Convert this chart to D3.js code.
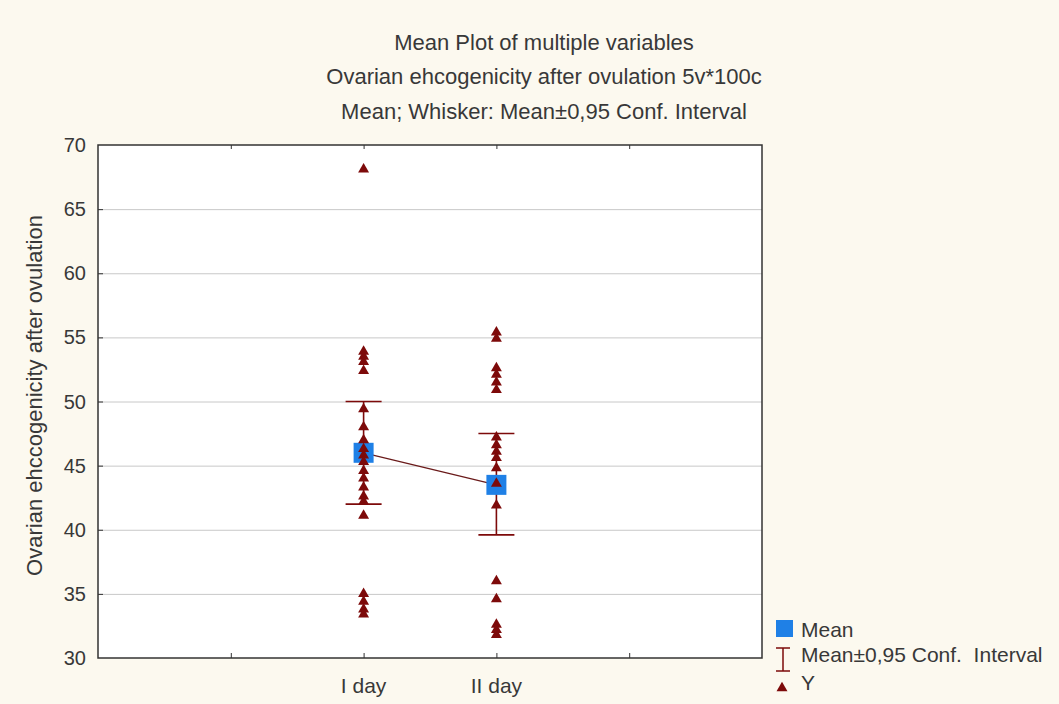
<meta charset="utf-8">
<script src="https://cdn.jsdelivr.net/npm/d3@7"></script>
<style>
  body { margin: 0; background: #fcf9ef; }
  text { font-family: "Liberation Sans", Arial, sans-serif; fill: #383838; }
  .grid line { stroke: #c8c8c8; stroke-width: 1px; }
  .grid path { display: none; }
  .ticks path { display: none; }
  .ticks line { stroke: #333; }
</style>
<body>
<script>
  // data
  var categories = ["I day", "II day"];
  var catPos = [2, 3];
  var means = [46.0, 43.5];
  var ciLow = [42.0, 39.6];
  var ciHigh = [50.0, 47.5];
  var yDay1 = [68.1, 53.9, 53.5, 53.1, 52.4, 49.4, 48.0, 47.0, 46.3, 45.8, 45.3, 44.6, 44.0, 43.3, 42.6, 42.2, 41.1, 35.0, 34.4, 33.8, 33.4];
  var yDay2 = [55.4, 54.9, 52.6, 52.1, 51.5, 50.9, 47.2, 46.6, 46.1, 45.6, 44.8, 43.6, 41.9, 36.0, 34.6, 32.6, 32.2, 31.8];
  var yTicks = [30, 35, 40, 45, 50, 55, 60, 65, 70];
  var xTicks = [1, 2, 3, 4];
  var titles = ["Mean Plot of multiple variables",
                "Ovarian ehcogenicity after ovulation 5v*100c",
                "Mean; Whisker: Mean\u00b10,95 Conf. Interval"];
  var yLabel = "Ovarian ehccogenicity after ovulation";
  var legendItems = ["Mean", "Mean\u00b10,95 Conf.  Interval", "Y"];

  var W = 1059, H = 704;
  var pLeft = 98, pRight = 762, pTop = 145, pBottom = 658;
  var red = "#7d0a0a", blue = "#1f80e6";

  var svg = d3.select("body").append("svg")
    .attr("width", W).attr("height", H);

  svg.append("rect").attr("width", W).attr("height", H).attr("fill", "#fcf9ef");

  var x = d3.scaleLinear().domain([0, 5]).range([pLeft, pRight]);
  var y = d3.scaleLinear().domain([30, 70]).range([pBottom, pTop]);

  svg.append("rect")
    .attr("x", pLeft).attr("y", pTop)
    .attr("width", pRight - pLeft).attr("height", pBottom - pTop)
    .attr("fill", "#fff");

  // horizontal grid
  svg.append("g").attr("class", "grid")
    .attr("transform", "translate(" + pLeft + ",0)")
    .call(d3.axisLeft(y).tickValues(yTicks.slice(1, -1)).tickSize(-(pRight - pLeft)).tickFormat(""));

  // inner ticks
  svg.append("g").attr("class", "ticks")
    .attr("transform", "translate(" + pLeft + ",0)")
    .call(d3.axisRight(y).tickValues(yTicks.slice(1, -1)).tickSize(5).tickFormat(""));
  svg.append("g").attr("class", "ticks")
    .attr("transform", "translate(0," + pBottom + ")")
    .call(d3.axisTop(x).tickValues(xTicks).tickSize(5).tickFormat(""));
  svg.append("g").attr("class", "ticks")
    .attr("transform", "translate(0," + pTop + ")")
    .call(d3.axisBottom(x).tickValues(xTicks).tickSize(4).tickFormat(""));

  // frame
  svg.append("rect")
    .attr("x", pLeft).attr("y", pTop)
    .attr("width", pRight - pLeft).attr("height", pBottom - pTop)
    .attr("fill", "none").attr("stroke", "#333").attr("stroke-width", 1.5);

  // y tick labels
  svg.append("g").selectAll("text").data(yTicks).enter().append("text")
    .attr("x", pLeft - 12).attr("y", function(d){ return y(d) + 7; })
    .attr("text-anchor", "end").attr("font-size", 20)
    .text(function(d){ return d; });

  // x labels
  svg.append("g").selectAll("text").data(categories).enter().append("text")
    .attr("x", function(d, i){ return x(catPos[i]); }).attr("y", 693)
    .attr("text-anchor", "middle").attr("font-size", 21)
    .text(function(d){ return d; });

  // titles
  svg.append("g").selectAll("text").data(titles).enter().append("text")
    .attr("x", 544).attr("y", function(d, i){ return [50, 84, 119][i]; })
    .attr("text-anchor", "middle").attr("font-size", 22)
    .text(function(d){ return d; });

  svg.append("text")
    .attr("transform", "translate(42," + ((pTop + pBottom) / 2 - 6) + ") rotate(-90)")
    .attr("text-anchor", "middle").attr("font-size", 22)
    .text(yLabel);

  // raw points
  var tri = d3.symbol().type(d3.symbolTriangle).size(52);
  var pts = [];
  yDay1.forEach(function(v){ pts.push({c: 0, v: v}); });
  yDay2.forEach(function(v){ pts.push({c: 1, v: v}); });

  // whiskers
  var wg = svg.append("g").attr("stroke", red).attr("stroke-width", 1.6);
  means.forEach(function(m, i){
    var cx = x(catPos[i]);
    wg.append("line").attr("x1", cx).attr("x2", cx).attr("y1", y(ciLow[i])).attr("y2", y(ciHigh[i]));
    wg.append("line").attr("x1", cx - 18).attr("x2", cx + 18).attr("y1", y(ciLow[i])).attr("y2", y(ciLow[i]));
    wg.append("line").attr("x1", cx - 18).attr("x2", cx + 18).attr("y1", y(ciHigh[i])).attr("y2", y(ciHigh[i]));
  });

  // mean line
  svg.append("path")
    .datum(means)
    .attr("fill", "none").attr("stroke", "#6a1a1a").attr("stroke-width", 1.2)
    .attr("d", d3.line().x(function(d, i){ return x(catPos[i]); }).y(function(d){ return y(d); }));

  // mean squares
  svg.append("g").selectAll("rect").data(means).enter().append("rect")
    .attr("x", function(d, i){ return x(catPos[i]) - 10; })
    .attr("y", function(d){ return y(d) - 10; })
    .attr("width", 20).attr("height", 20)
    .attr("fill", blue);

  svg.append("g").selectAll("path").data(pts).enter().append("path")
    .attr("d", tri)
    .attr("fill", red)
    .attr("transform", function(d){ return "translate(" + x(catPos[d.c]) + "," + y(d.v) + ")"; });

  // legend
  var lg = svg.append("g");
  lg.append("rect").attr("x", 776).attr("y", 620).attr("width", 17).attr("height", 17).attr("fill", blue);
  lg.append("line").attr("x1", 783).attr("x2", 783).attr("y1", 648).attr("y2", 671).attr("stroke", red).attr("stroke-width", 1.5);
  lg.append("line").attr("x1", 776).attr("x2", 790).attr("y1", 648).attr("y2", 648).attr("stroke", red).attr("stroke-width", 1.5);
  lg.append("line").attr("x1", 776).attr("x2", 790).attr("y1", 671).attr("y2", 671).attr("stroke", red).attr("stroke-width", 1.5);
  lg.append("path").attr("d", tri).attr("fill", red).attr("transform", "translate(782,688)");
  lg.selectAll("text").data(legendItems).enter().append("text")
    .attr("x", 801).attr("y", function(d, i){ return [637, 662, 690][i]; })
    .attr("font-size", 21)
    .style("white-space", "pre")
    .text(function(d){ return d; });
</script>
</body>
</html>
